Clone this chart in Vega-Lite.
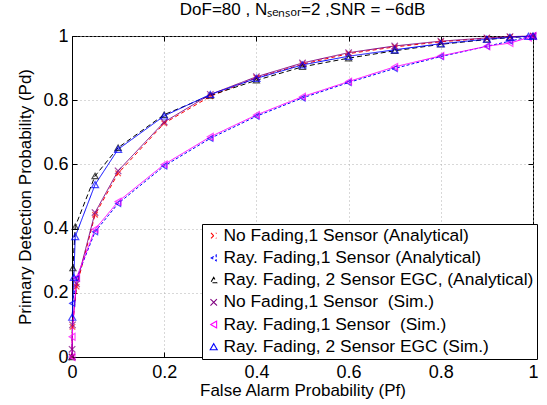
{
  "$schema": "https://vega.github.io/schema/vega-lite/v6.json",
  "width": 461,
  "height": 321,
  "autosize": {"type": "none"},
  "padding": {"left": 72, "top": 36, "right": 14, "bottom": 48},
  "background": "white",
  "title": {
    "text": "DoF=80 , Nₛₑₙₛₒᵣ=2 ,SNR = −6dB",
    "font": "Liberation Sans",
    "fontSize": 17,
    "fontWeight": "normal",
    "color": "black",
    "anchor": "middle",
    "offset": 8
  },
  "config": {
    "view": {"stroke": "black", "strokeWidth": 1},
    "axis": {
      "labelFont": "Liberation Sans",
      "labelFontSize": 18,
      "labelColor": "black",
      "titleFont": "Liberation Sans",
      "titleFontSize": 17,
      "titleFontWeight": "normal",
      "titleColor": "black",
      "domainColor": "black",
      "tickColor": "black",
      "tickSize": -5,
      "gridColor": "#b0b0b0",
      "gridDash": [1, 3],
      "gridWidth": 1
    },
    "legend": {
      "labelFont": "Liberation Sans",
      "labelFontSize": 17.4,
      "labelColor": "black",
      "labelLimit": 500,
      "orient": "none",
      "legendX": 130,
      "legendY": 188,
      "strokeColor": "black",
      "fillColor": "white",
      "padding": 3,
      "rowPadding": 3.2,
      "labelOffset": 1,
      "symbolSize": 400,
      "symbolStrokeWidth": 1.1,
      "title": null
    }
  },
  "data": {
    "values": [
      {"s": "No Fading,1 Sensor (Analytical)", "x": 0, "y": 0},
      {"s": "No Fading,1 Sensor (Analytical)", "x": 0.001, "y": 0.094},
      {"s": "No Fading,1 Sensor (Analytical)", "x": 0.01, "y": 0.219},
      {"s": "No Fading,1 Sensor (Analytical)", "x": 0.05, "y": 0.443},
      {"s": "No Fading,1 Sensor (Analytical)", "x": 0.1, "y": 0.572},
      {"s": "No Fading,1 Sensor (Analytical)", "x": 0.2, "y": 0.728},
      {"s": "No Fading,1 Sensor (Analytical)", "x": 0.3, "y": 0.812},
      {"s": "No Fading,1 Sensor (Analytical)", "x": 0.4, "y": 0.87},
      {"s": "No Fading,1 Sensor (Analytical)", "x": 0.5, "y": 0.912},
      {"s": "No Fading,1 Sensor (Analytical)", "x": 0.6, "y": 0.945},
      {"s": "No Fading,1 Sensor (Analytical)", "x": 0.7, "y": 0.966},
      {"s": "No Fading,1 Sensor (Analytical)", "x": 0.8, "y": 0.982},
      {"s": "No Fading,1 Sensor (Analytical)", "x": 0.9, "y": 0.993},
      {"s": "No Fading,1 Sensor (Analytical)", "x": 0.95, "y": 0.997},
      {"s": "No Fading,1 Sensor (Analytical)", "x": 1, "y": 1},

      {"s": "Ray. Fading,1 Sensor (Analytical)", "x": 0.0005, "y": 0.167},
      {"s": "Ray. Fading,1 Sensor (Analytical)", "x": 0.01, "y": 0.245},
      {"s": "Ray. Fading,1 Sensor (Analytical)", "x": 0.05, "y": 0.39},
      {"s": "Ray. Fading,1 Sensor (Analytical)", "x": 0.1, "y": 0.478},
      {"s": "Ray. Fading,1 Sensor (Analytical)", "x": 0.2, "y": 0.595},
      {"s": "Ray. Fading,1 Sensor (Analytical)", "x": 0.3, "y": 0.681},
      {"s": "Ray. Fading,1 Sensor (Analytical)", "x": 0.4, "y": 0.75},
      {"s": "Ray. Fading,1 Sensor (Analytical)", "x": 0.5, "y": 0.807},
      {"s": "Ray. Fading,1 Sensor (Analytical)", "x": 0.6, "y": 0.855},
      {"s": "Ray. Fading,1 Sensor (Analytical)", "x": 0.7, "y": 0.899},
      {"s": "Ray. Fading,1 Sensor (Analytical)", "x": 0.8, "y": 0.936},
      {"s": "Ray. Fading,1 Sensor (Analytical)", "x": 0.9, "y": 0.968},
      {"s": "Ray. Fading,1 Sensor (Analytical)", "x": 0.95, "y": 0.984},
      {"s": "Ray. Fading,1 Sensor (Analytical)", "x": 1, "y": 1},

      {"s": "Ray. Fading, 2 Sensor EGC, (Analytical)", "x": 0, "y": 0},
      {"s": "Ray. Fading, 2 Sensor EGC, (Analytical)", "x": 0.002, "y": 0.277},
      {"s": "Ray. Fading, 2 Sensor EGC, (Analytical)", "x": 0.007, "y": 0.406},
      {"s": "Ray. Fading, 2 Sensor EGC, (Analytical)", "x": 0.05, "y": 0.564},
      {"s": "Ray. Fading, 2 Sensor EGC, (Analytical)", "x": 0.1, "y": 0.652},
      {"s": "Ray. Fading, 2 Sensor EGC, (Analytical)", "x": 0.2, "y": 0.755},
      {"s": "Ray. Fading, 2 Sensor EGC, (Analytical)", "x": 0.3, "y": 0.815},
      {"s": "Ray. Fading, 2 Sensor EGC, (Analytical)", "x": 0.4, "y": 0.862},
      {"s": "Ray. Fading, 2 Sensor EGC, (Analytical)", "x": 0.5, "y": 0.904},
      {"s": "Ray. Fading, 2 Sensor EGC, (Analytical)", "x": 0.6, "y": 0.931},
      {"s": "Ray. Fading, 2 Sensor EGC, (Analytical)", "x": 0.7, "y": 0.954},
      {"s": "Ray. Fading, 2 Sensor EGC, (Analytical)", "x": 0.8, "y": 0.974},
      {"s": "Ray. Fading, 2 Sensor EGC, (Analytical)", "x": 0.9, "y": 0.989},
      {"s": "Ray. Fading, 2 Sensor EGC, (Analytical)", "x": 0.95, "y": 0.995},
      {"s": "Ray. Fading, 2 Sensor EGC, (Analytical)", "x": 1, "y": 1},

      {"s": "No Fading,1 Sensor\u00a0 (Sim.)", "x": 0, "y": 0},
      {"s": "No Fading,1 Sensor\u00a0 (Sim.)", "x": 0.0002, "y": 0.024},
      {"s": "No Fading,1 Sensor\u00a0 (Sim.)", "x": 0.001, "y": 0.1},
      {"s": "No Fading,1 Sensor\u00a0 (Sim.)", "x": 0.01, "y": 0.228},
      {"s": "No Fading,1 Sensor\u00a0 (Sim.)", "x": 0.05, "y": 0.45},
      {"s": "No Fading,1 Sensor\u00a0 (Sim.)", "x": 0.1, "y": 0.58},
      {"s": "No Fading,1 Sensor\u00a0 (Sim.)", "x": 0.2, "y": 0.732},
      {"s": "No Fading,1 Sensor\u00a0 (Sim.)", "x": 0.3, "y": 0.818},
      {"s": "No Fading,1 Sensor\u00a0 (Sim.)", "x": 0.4, "y": 0.873},
      {"s": "No Fading,1 Sensor\u00a0 (Sim.)", "x": 0.5, "y": 0.916},
      {"s": "No Fading,1 Sensor\u00a0 (Sim.)", "x": 0.6, "y": 0.948},
      {"s": "No Fading,1 Sensor\u00a0 (Sim.)", "x": 0.7, "y": 0.969},
      {"s": "No Fading,1 Sensor\u00a0 (Sim.)", "x": 0.8, "y": 0.984},
      {"s": "No Fading,1 Sensor\u00a0 (Sim.)", "x": 0.9, "y": 0.994},
      {"s": "No Fading,1 Sensor\u00a0 (Sim.)", "x": 0.95, "y": 0.998},
      {"s": "No Fading,1 Sensor\u00a0 (Sim.)", "x": 1, "y": 1},

      {"s": "Ray. Fading,1 Sensor\u00a0 (Sim.)", "x": 0, "y": 0},
      {"s": "Ray. Fading,1 Sensor\u00a0 (Sim.)", "x": 0.0002, "y": 0.063},
      {"s": "Ray. Fading,1 Sensor\u00a0 (Sim.)", "x": 0.01, "y": 0.247},
      {"s": "Ray. Fading,1 Sensor\u00a0 (Sim.)", "x": 0.05, "y": 0.398},
      {"s": "Ray. Fading,1 Sensor\u00a0 (Sim.)", "x": 0.1, "y": 0.484},
      {"s": "Ray. Fading,1 Sensor\u00a0 (Sim.)", "x": 0.2, "y": 0.6},
      {"s": "Ray. Fading,1 Sensor\u00a0 (Sim.)", "x": 0.3, "y": 0.686},
      {"s": "Ray. Fading,1 Sensor\u00a0 (Sim.)", "x": 0.4, "y": 0.754},
      {"s": "Ray. Fading,1 Sensor\u00a0 (Sim.)", "x": 0.5, "y": 0.811},
      {"s": "Ray. Fading,1 Sensor\u00a0 (Sim.)", "x": 0.6, "y": 0.858},
      {"s": "Ray. Fading,1 Sensor\u00a0 (Sim.)", "x": 0.7, "y": 0.904},
      {"s": "Ray. Fading,1 Sensor\u00a0 (Sim.)", "x": 0.8, "y": 0.938},
      {"s": "Ray. Fading,1 Sensor\u00a0 (Sim.)", "x": 0.9, "y": 0.968},
      {"s": "Ray. Fading,1 Sensor\u00a0 (Sim.)", "x": 0.95, "y": 0.978},
      {"s": "Ray. Fading,1 Sensor\u00a0 (Sim.)", "x": 0.99, "y": 0.995},
      {"s": "Ray. Fading,1 Sensor\u00a0 (Sim.)", "x": 1, "y": 1},

      {"s": "Ray. Fading, 2 Sensor EGC (Sim.)", "x": 0.0005, "y": 0.124},
      {"s": "Ray. Fading, 2 Sensor EGC (Sim.)", "x": 0.004, "y": 0.248},
      {"s": "Ray. Fading, 2 Sensor EGC (Sim.)", "x": 0.007, "y": 0.375},
      {"s": "Ray. Fading, 2 Sensor EGC (Sim.)", "x": 0.05, "y": 0.537},
      {"s": "Ray. Fading, 2 Sensor EGC (Sim.)", "x": 0.1, "y": 0.647},
      {"s": "Ray. Fading, 2 Sensor EGC (Sim.)", "x": 0.2, "y": 0.751},
      {"s": "Ray. Fading, 2 Sensor EGC (Sim.)", "x": 0.3, "y": 0.818},
      {"s": "Ray. Fading, 2 Sensor EGC (Sim.)", "x": 0.4, "y": 0.868},
      {"s": "Ray. Fading, 2 Sensor EGC (Sim.)", "x": 0.5, "y": 0.91},
      {"s": "Ray. Fading, 2 Sensor EGC (Sim.)", "x": 0.6, "y": 0.937},
      {"s": "Ray. Fading, 2 Sensor EGC (Sim.)", "x": 0.7, "y": 0.957},
      {"s": "Ray. Fading, 2 Sensor EGC (Sim.)", "x": 0.8, "y": 0.976},
      {"s": "Ray. Fading, 2 Sensor EGC (Sim.)", "x": 0.9, "y": 0.99},
      {"s": "Ray. Fading, 2 Sensor EGC (Sim.)", "x": 0.95, "y": 0.996},
      {"s": "Ray. Fading, 2 Sensor EGC (Sim.)", "x": 0.99, "y": 0.999},
      {"s": "Ray. Fading, 2 Sensor EGC (Sim.)", "x": 1, "y": 1}
    ]
  },
  "resolve": {"axis": {"x": "independent", "y": "independent"}},
  "layer": [
    {
      "mark": {"type": "line", "strokeWidth": 1, "clip": false},
      "encoding": {
        "x": {"field": "x", "type": "quantitative", "scale": {"domain": [0, 1], "nice": false},
              "axis": {"title": "False Alarm Probability (Pf)", "values": [0, 0.2, 0.4, 0.6, 0.8, 1], "format": "~g", "labelPadding": 11, "titlePadding": 1, "labelFlush": false}},
        "y": {"field": "y", "type": "quantitative", "scale": {"domain": [0, 1], "nice": false},
              "axis": {"title": "Primary Detection Probability (Pd)", "values": [0, 0.2, 0.4, 0.6, 0.8, 1], "format": "~g", "labelPadding": 9, "titlePadding": 8, "labelFlush": false}},
        "color": {"field": "s", "type": "nominal", "sort": null,
          "scale": {"domain": ["No Fading,1 Sensor (Analytical)", "Ray. Fading,1 Sensor (Analytical)", "Ray. Fading, 2 Sensor EGC, (Analytical)", "No Fading,1 Sensor\u00a0 (Sim.)", "Ray. Fading,1 Sensor\u00a0 (Sim.)", "Ray. Fading, 2 Sensor EGC (Sim.)"],
                    "range": ["#ff0000", "#0000ff", "#000000", "#800080", "#ff00ff", "#0000ff"]},
          "legend": {
            "encode": {
              "symbols": {
                "update": {
                  "shape": {"value": {"expr": "indexof(datum.value, 'No Fading') >= 0 ? 'M-1,0L-0.3,0M0.3,0L1,0M-0.28,-0.28L0.28,0.28M-0.28,0.28L0.28,-0.28' : indexof(datum.value, '2 Sensor') >= 0 ? 'M-1,0L1,0M0,-0.34L0.32,0.24L-0.32,0.24Z' : 'M-1,0L1,0M-0.34,0L0.3,-0.32L0.3,0.32Z'"}},
                  "size": {"value": 400},
                  "fill": {"value": "transparent"}
                }
              }
            }
          }},
        "strokeDash": {"field": "s", "type": "nominal",
          "scale": {"domain": ["No Fading,1 Sensor (Analytical)", "Ray. Fading,1 Sensor (Analytical)", "Ray. Fading, 2 Sensor EGC, (Analytical)", "No Fading,1 Sensor\u00a0 (Sim.)", "Ray. Fading,1 Sensor\u00a0 (Sim.)", "Ray. Fading, 2 Sensor EGC (Sim.)"],
                    "range": [[4, 3], [3, 2], [5, 3], [1, 0], [1, 0], [1, 0]]}}
      }
    },
    {
      "mark": {"type": "point", "filled": false, "strokeWidth": 1.2, "clip": false},
      "encoding": {
        "x": {"field": "x", "type": "quantitative", "scale": {"domain": [0, 1], "nice": false},
              "axis": {"orient": "top", "title": null, "labels": false, "grid": false, "domain": false, "values": [0, 0.2, 0.4, 0.6, 0.8, 1]}},
        "y": {"field": "y", "type": "quantitative", "scale": {"domain": [0, 1], "nice": false},
              "axis": {"orient": "right", "title": null, "labels": false, "grid": false, "domain": false, "values": [0, 0.2, 0.4, 0.6, 0.8, 1]}},
        "color": {"field": "s", "type": "nominal",
          "legend": {
            "encode": {
              "symbols": {
                "update": {
                  "shape": {"value": {"expr": "indexof(datum.value, 'No Fading') >= 0 ? 'M-1,0L-0.3,0M0.3,0L1,0M-0.28,-0.28L0.28,0.28M-0.28,0.28L0.28,-0.28' : indexof(datum.value, '2 Sensor') >= 0 ? 'M-1,0L1,0M0,-0.34L0.32,0.24L-0.32,0.24Z' : 'M-1,0L1,0M-0.34,0L0.3,-0.32L0.3,0.32Z'"}},
                  "size": {"value": 400},
                  "fill": {"value": "transparent"}
                }
              }
            }
          }},
        "shape": {"field": "s", "type": "nominal", "legend": null,
          "scale": {"domain": ["No Fading,1 Sensor (Analytical)", "Ray. Fading,1 Sensor (Analytical)", "Ray. Fading, 2 Sensor EGC, (Analytical)", "No Fading,1 Sensor\u00a0 (Sim.)", "Ray. Fading,1 Sensor\u00a0 (Sim.)", "Ray. Fading, 2 Sensor EGC (Sim.)"],
                    "range": ["M-1,-1L1,1M-1,1L1,-1", "triangle-left", "triangle-up", "M-1,-1L1,1M-1,1L1,-1", "triangle-left", "triangle-up"]}},
        "size": {"field": "s", "type": "nominal", "legend": null,
          "scale": {"domain": ["No Fading,1 Sensor (Analytical)", "Ray. Fading,1 Sensor (Analytical)", "Ray. Fading, 2 Sensor EGC, (Analytical)", "No Fading,1 Sensor\u00a0 (Sim.)", "Ray. Fading,1 Sensor\u00a0 (Sim.)", "Ray. Fading, 2 Sensor EGC (Sim.)"],
                    "range": [30, 50, 45, 45, 90, 90]}}
      }
    }
  ]
}
